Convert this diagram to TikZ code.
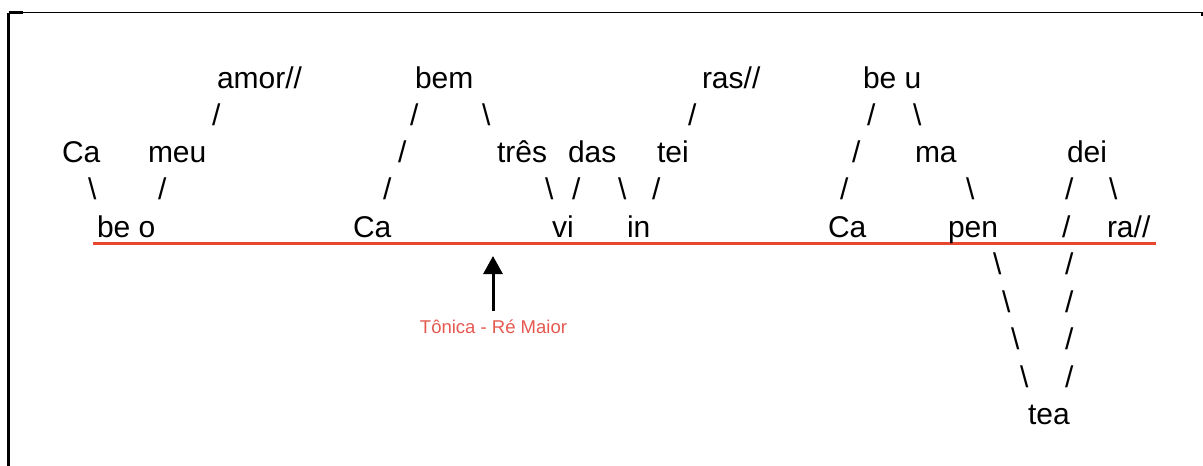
\documentclass[tikz,border=0pt]{standalone}
\usepackage{fontspec}
\setmainfont{Liberation Sans}
\usetikzlibrary{arrows.meta}
\definecolor{baseline red}{RGB}{232,70,45}
\definecolor{label red}{RGB}{228,88,80}
\newcommand{\bs}{\textbackslash}
\tikzset{
  syl/.style={anchor=base west, inner sep=0pt, outer sep=0pt,
    font=\fontsize{30}{36}\selectfont},
  tonicnote/.style={anchor=base, inner sep=0pt, text=label red,
    font=\fontsize{18.5}{22}\selectfont},
  tonicarrow/.style={line width=3pt, -{Triangle[length=18pt,width=19pt]}},
  tonicline/.style={line width=3pt, draw=baseline red},
  frameline/.style={line width=1.2pt, black},
}
\begin{document}
\begin{tikzpicture}[x=1pt, y=-1pt]
\useasboundingbox (0,0) rectangle (1203,466);

% frame (top and left edges)
\coordinate (fTL) at (8.5,12.5);
\coordinate (fTR) at (1202,12.5);
\coordinate (fBL) at (8.5,466);
\draw[frameline] (fTL) -- (fTR) -- ++(0,3);
\draw[line width=2.2pt] (fTL) -- (fBL);
\draw[line width=2.2pt] (fTL) -- ++(14,0);

% reference line of the melody
\coordinate (lineL) at (93,243);
\coordinate (lineR) at (1156,243);
\draw[tonicline] (lineL) -- (lineR);

% row 0
\node[syl] (amor) at (217,88) {amor//};
\node[syl] (bem)  at (415,88) {bem};
\node[syl] (ras)  at (702,88) {ras//};
\node[syl] (beu)  at (863,88) {be u};

% row 1
\node[syl] (s1a) at (212,125) {/};
\node[syl] (s1b) at (410,125) {/};
\node[syl] (s1c) at (482,125) {\bs};
\node[syl] (s1d) at (688,125) {/};
\node[syl] (s1e) at (867,125) {/};
\node[syl] (s1f) at (913,125) {\bs};

% row 2
\node[syl] (ca1)  at (62,162)   {Ca};
\node[syl] (meu)  at (148,162)  {meu};
\node[syl] (s2a)  at (398,162)  {/};
\node[syl] (tres) at (497,162)  {três};
\node[syl] (das)  at (568,162)  {das};
\node[syl] (tei)  at (657,162)  {tei};
\node[syl] (s2b)  at (852,162)  {/};
\node[syl] (ma)   at (915,162)  {ma};
\node[syl] (dei)  at (1067,162) {dei};

% row 3
\node[syl] (s3a) at (88,199)   {\bs};
\node[syl] (s3b) at (158,199)  {/};
\node[syl] (s3c) at (383,199)  {/};
\node[syl] (s3d) at (545,199)  {\bs};
\node[syl] (s3e) at (572,199)  {/};
\node[syl] (s3f) at (618,199)  {\bs};
\node[syl] (s3g) at (652,199)  {/};
\node[syl] (s3h) at (840,199)  {/};
\node[syl] (s3i) at (966,199)  {\bs};
\node[syl] (s3j) at (1065,199) {/};
\node[syl] (s3k) at (1109,199) {\bs};

% row 4 (on the line)
\node[syl] (beo) at (97,237)   {be o};
\node[syl] (ca2) at (353,237)  {Ca};
\node[syl] (vi)  at (552,237)  {vi};
\node[syl] (in)  at (627,237)  {in};
\node[syl] (ca3) at (828,237)  {Ca};
\node[syl] (pen) at (948,237)  {pen};
\node[syl] (s4a) at (1062,237) {/};
\node[syl] (ra)  at (1107,237) {ra//};

% descent below the line
\node[syl] (s5a) at (993,274)  {\bs};
\node[syl] (s5b) at (1065,274) {/};
\node[syl] (s6a) at (1002,312) {\bs};
\node[syl] (s6b) at (1065,312) {/};
\node[syl] (s7a) at (1011,349) {\bs};
\node[syl] (s7b) at (1065,349) {/};
\node[syl] (s8a) at (1020,387) {\bs};
\node[syl] (s8b) at (1065,387) {/};
\node[syl] (tea) at (1028,424) {tea};

% tonic marker
\node[tonicnote] (tonica) at (493.5,333) {Tônica - Ré Maior};
\coordinate (tail) at (493,311);
\coordinate (tip) at (493,256);
\draw[tonicarrow] (tail) -- (tip);
\end{tikzpicture}
\end{document}
